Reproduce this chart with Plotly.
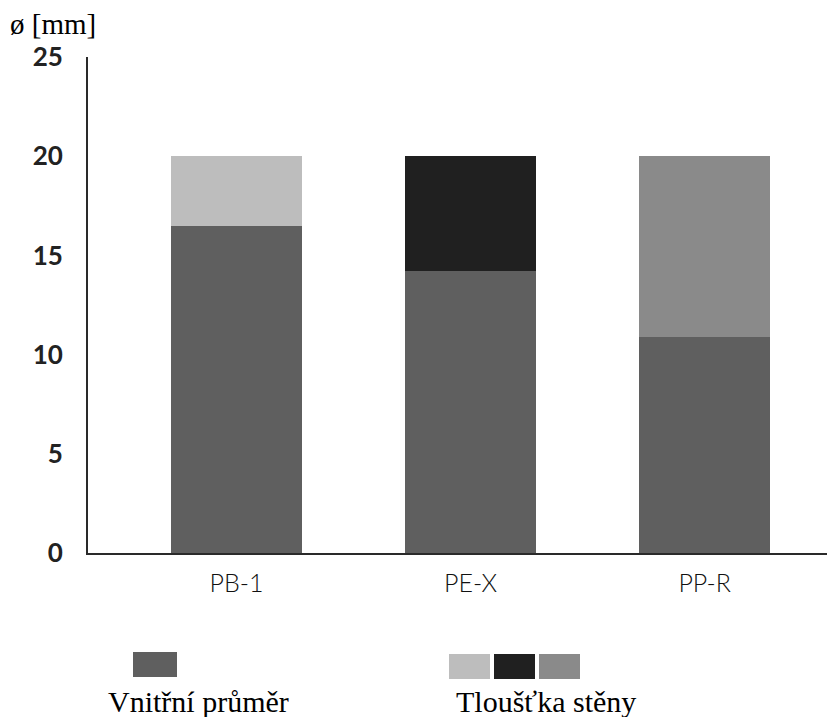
import plotly.graph_objects as go

# ---- data ----
categories = ["PB-1", "PE-X", "PP-R"]
outer_diameter = [20, 20, 20]
inner_diameter = [16.5, 14.2, 10.9]
wall_colors = ["#bdbdbd", "#202020", "#8a8a8a"]
inner_color = "#5f5f5f"
y_ticks = [0, 5, 10, 15, 20, 25]
y_title = "ø [mm]"
legend_inner = "Vnitřní průměr"
legend_wall = "Tloušťka stěny"

wall = [o - i for o, i in zip(outer_diameter, inner_diameter)]

W, H = 827, 717
L, R, T, B = 88, 0, 57, 164
PW, PH = W - L - R, H - T - B

def px(x):
    return (x - L) / PW

def py(y):
    return (H - B - y) / PH

fig = go.Figure()
fig.add_trace(go.Bar(x=categories, y=inner_diameter, marker=dict(color=inner_color, line=dict(width=0)),
                     width=0.56, hoverinfo="skip", showlegend=False))
fig.add_trace(go.Bar(x=categories, y=wall, marker=dict(color=wall_colors, line=dict(width=0)),
                     width=0.56, hoverinfo="skip", showlegend=False))

serif = "Liberation Serif, Times New Roman, serif"

fig.update_layout(
    width=W, height=H, barmode="stack",
    margin=dict(l=L, r=R, t=T, b=B, pad=0),
    paper_bgcolor="white", plot_bgcolor="white",
    showlegend=False,
    xaxis=dict(range=[-0.635, 2.523], showgrid=False, zeroline=False,
               showline=True, linecolor="#2a2a2a", linewidth=2,
               ticks="", ticklabelstandoff=7,
               tickfont=dict(family="Lato, sans-serif", size=25, color="#111", weight=300)),
    yaxis=dict(range=[0, 25], tickvals=y_ticks, showgrid=False, zeroline=False,
               showline=True, linecolor="#2a2a2a", linewidth=2,
               ticks="", ticklabelstandoff=18,
               tickfont=dict(family="Lato, sans-serif", size=26, color="#222", weight="bold")),
    annotations=[
        dict(text=y_title, xref="paper", yref="paper", x=px(8), y=py(24), xanchor="left", yanchor="middle",
             showarrow=False, font=dict(family=serif, size=29, color="black")),
        dict(text=legend_inner, xref="paper", yref="paper", x=px(198), y=py(701), xanchor="center", yanchor="middle",
             showarrow=False, font=dict(family=serif, size=30, color="black")),
        dict(text=legend_wall, xref="paper", yref="paper", x=px(546), y=py(701), xanchor="center", yanchor="middle",
             showarrow=False, font=dict(family=serif, size=30, color="black")),
    ],
)

# legend swatches
shapes = [dict(type="rect", xref="paper", yref="paper", x0=px(133), x1=px(177), y0=py(677), y1=py(652),
               fillcolor=inner_color, line=dict(width=0))]
for i, c in enumerate(wall_colors):
    x0 = 449 + i * 45
    shapes.append(dict(type="rect", xref="paper", yref="paper", x0=px(x0), x1=px(x0 + 41), y0=py(679), y1=py(654),
                       fillcolor=c, line=dict(width=0)))
fig.update_layout(shapes=shapes)

fig.write_html("out.html")
